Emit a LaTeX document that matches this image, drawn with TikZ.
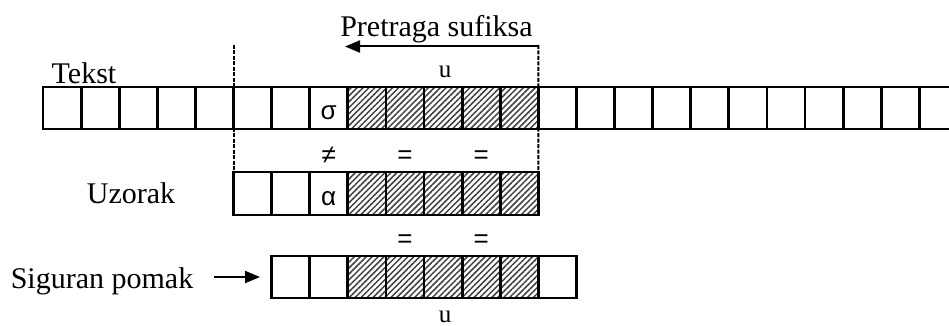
\documentclass[tikz,border=0pt]{standalone}
\usepackage{fontspec}
\setmainfont{Liberation Serif}
\newfontfamily\symfont{Liberation Sans}
\usetikzlibrary{arrows.meta,positioning,patterns.meta}

\begin{document}
\begin{tikzpicture}[
  x=1pt, y=-1pt,
  cell/.style={rectangle, draw, line width=2.8pt, minimum width=38.1pt, minimum height=42pt,
    inner sep=0pt, outer sep=0pt, text height=23pt, text depth=0pt, font=\symfont\fontsize{26}{28}\selectfont},
  shaded/.style={cell, pattern={Lines[angle=45, distance=4.2pt, line width=1.5pt]}, pattern color=black!75},
  lbl/.style={font=\fontsize{30}{32}\selectfont, inner sep=0pt, anchor=base},
  sym/.style={font=\symfont\fontsize{26}{28}\selectfont, inner sep=0pt, anchor=base},
  ulbl/.style={font=\fontsize{25}{27}\selectfont, inner sep=0pt, anchor=base},
  guide/.style={dash pattern=on 4pt off 1.5pt, line width=2pt},
  arrow/.style={-{Triangle[length=15pt, width=12pt]}, line width=2pt}
]
\useasboundingbox (0,0) rectangle (949,326);
\clip (0,0) rectangle (949,326);

% labels
\node[lbl] (tekst) at (84,84) {Tekst};
\node[lbl] (search) at (436.5,36.5) {Pretraga sufiksa};
\node[lbl] (uzorak) at (131,203) {Uzorak};
\node[lbl] (pomak) at (102,288) {Siguran pomak};

% tekst
\foreach \i in {0,...,6} \node[cell] (t\i) at ({62.05+38.1*\i},108) {};
\node[cell] (t7) at (328.75,108) {σ};
\foreach \i in {8,...,12} \node[shaded] (t\i) at ({62.05+38.1*\i},108) {};
\foreach \i in {13,...,23} \node[cell] (t\i) at ({62.05+38.1*\i},108) {};

% uzorak
\foreach \j in {0,1} \node[cell, minimum height=43pt] (p\j) at ({252.55+38.1*\j},193.5) {};
\node[cell, minimum height=43pt] (p2) at (328.75,193.5) {α};
\foreach \j in {3,...,7} \node[shaded, minimum height=43pt] (p\j) at ({252.55+38.1*\j},193.5) {};

% siguran pomak
\foreach \k in {0,1,7} \node[cell] (s\k) at ({290.65+38.1*\k},277) {};
\foreach \k in {2,...,6} \node[shaded] (s\k) at ({290.65+38.1*\k},277) {};

% usporedbe
\node[sym] (ne) at (328.75,163) {≠};
\node[sym] (eqA) at (404.95,163) {=};
\node[sym] (eqB) at (481.15,163) {=};
\node[sym] (eqC) at (404.95,247) {=};
\node[sym] (eqD) at (481.15,247) {=};
\node[ulbl] (uTop) at (445,78) {u};
\node[ulbl] (uBot) at (445,322) {u};

% granice i strelice
\coordinate (gL) at (233.5,45);
\coordinate (gR) at (538.3,45);
\coordinate (aL) at (345,46.5);
\draw[guide] (gL) -- (p0.north west);
\draw[guide] (gR) -- (p7.north east);
\draw[arrow] (gR |- aL) -- (aL);
\draw[arrow, shorten <=21pt, shorten >=11.6pt] (pomak.east |- s0.west) -- (s0.west);
\end{tikzpicture}
\end{document}
